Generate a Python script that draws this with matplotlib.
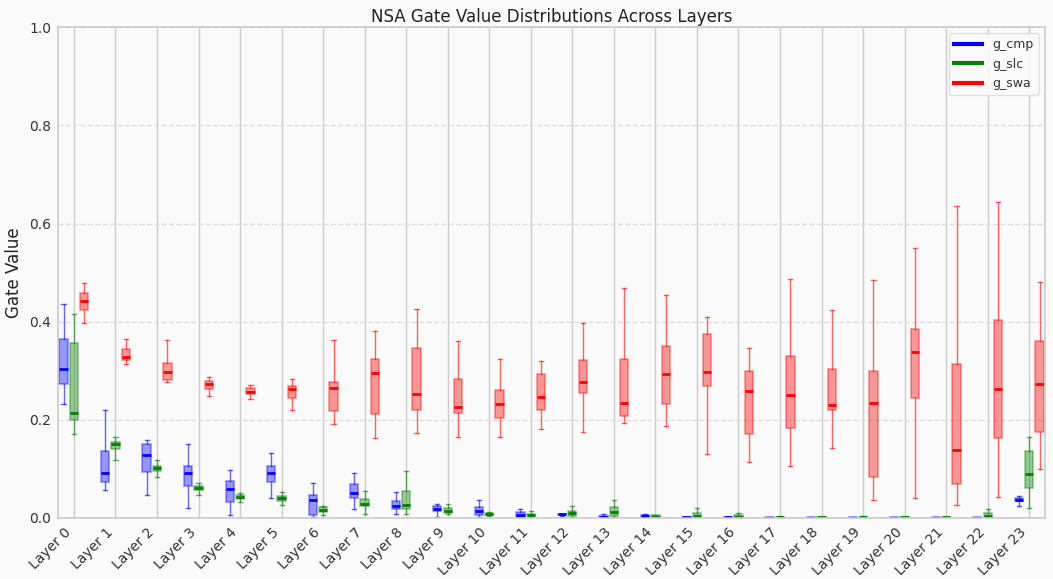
import matplotlib
matplotlib.use("Agg")
import matplotlib.pyplot as plt
from matplotlib.lines import Line2D
import numpy as np

layers = [f"Layer {i}" for i in range(24)]
series_names = ["g_cmp", "g_slc", "g_swa"]
series_colors = ["blue", "green", "red"]

# g_cmp: whisker low, Q1, median, Q3, whisker high
cmp_lo  = [0.232, 0.056, 0.047, 0.020, 0.006, 0.040, 0.002, 0.018, 0.009, 0.003, 0.002, 0.003, 0.0047, 0.001, 0.001, 0.0005, 0.0005, 0.0004, 0.0003, 0.0003, 0.0003, 0.0003, 0.0003, 0.024]
cmp_q1  = [0.274, 0.073, 0.094, 0.065, 0.032, 0.073, 0.006, 0.041, 0.018, 0.014, 0.007, 0.003, 0.0054, 0.001, 0.002, 0.0008, 0.0008, 0.0006, 0.0005, 0.0005, 0.0005, 0.0005, 0.0005, 0.034]
cmp_med = [0.304, 0.091, 0.129, 0.092, 0.060, 0.091, 0.037, 0.051, 0.025, 0.019, 0.0136, 0.006, 0.0075, 0.003, 0.0034, 0.001, 0.001, 0.0008, 0.0007, 0.0007, 0.0007, 0.0007, 0.0007, 0.0373]
cmp_q3  = [0.364, 0.137, 0.151, 0.105, 0.075, 0.106, 0.047, 0.069, 0.0346, 0.024, 0.022, 0.012, 0.009, 0.005, 0.0054, 0.0015, 0.0015, 0.001, 0.001, 0.001, 0.001, 0.001, 0.001, 0.040]
cmp_hi  = [0.437, 0.221, 0.159, 0.1505, 0.097, 0.133, 0.071, 0.0915, 0.053, 0.0285, 0.0366, 0.019, 0.009, 0.008, 0.0075, 0.002, 0.002, 0.0015, 0.0012, 0.0012, 0.0012, 0.0012, 0.0012, 0.0447]

# g_slc
slc_lo  = [0.1715, 0.119, 0.083, 0.047, 0.0325, 0.026, 0.007, 0.0075, 0.009, 0.008, 0.005, 0.003, 0.003, 0.003, 0.001, 0.001, 0.001, 0.0008, 0.0006, 0.0008, 0.0006, 0.0006, 0.001, 0.0197]
slc_q1  = [0.199, 0.141, 0.096, 0.057, 0.039, 0.034, 0.013, 0.024, 0.018, 0.010, 0.006, 0.004, 0.005, 0.005, 0.002, 0.002, 0.002, 0.0012, 0.0008, 0.0012, 0.0008, 0.0008, 0.002, 0.0617]
slc_med = [0.214, 0.1505, 0.101, 0.062, 0.043, 0.040, 0.017, 0.029, 0.026, 0.0136, 0.008, 0.006, 0.010, 0.0115, 0.003, 0.005, 0.003, 0.002, 0.001, 0.002, 0.001, 0.001, 0.004, 0.090]
slc_q3  = [0.357, 0.155, 0.106, 0.066, 0.047, 0.045, 0.022, 0.039, 0.055, 0.020, 0.010, 0.009, 0.0136, 0.0217, 0.0054, 0.010, 0.007, 0.003, 0.0015, 0.003, 0.0015, 0.0015, 0.0095, 0.136]
slc_hi  = [0.4156, 0.166, 0.119, 0.0705, 0.050, 0.052, 0.024, 0.054, 0.0956, 0.0285, 0.013, 0.0136, 0.0237, 0.036, 0.0054, 0.0197, 0.010, 0.004, 0.002, 0.004, 0.002, 0.002, 0.019, 0.164]

# g_swa
swa_lo  = [0.397, 0.314, 0.277, 0.249, 0.243, 0.219, 0.1925, 0.163, 0.173, 0.164, 0.165, 0.181, 0.1756, 0.194, 0.187, 0.131, 0.1146, 0.1064, 0.142, 0.0366, 0.0414, 0.0264, 0.042, 0.0997]
swa_q1  = [0.424, 0.321, 0.282, 0.262, 0.252, 0.244, 0.218, 0.2115, 0.219, 0.214, 0.203, 0.220, 0.254, 0.207, 0.233, 0.268, 0.171, 0.183, 0.221, 0.0834, 0.244, 0.069, 0.162, 0.175]
swa_med = [0.443, 0.327, 0.297, 0.272, 0.257, 0.262, 0.264, 0.295, 0.252, 0.226, 0.233, 0.2475, 0.277, 0.235, 0.2935, 0.297, 0.258, 0.250, 0.2305, 0.234, 0.3376, 0.139, 0.2637, 0.2725]
swa_q3  = [0.459, 0.344, 0.315, 0.279, 0.264, 0.269, 0.277, 0.323, 0.346, 0.283, 0.260, 0.2935, 0.3214, 0.324, 0.350, 0.375, 0.299, 0.330, 0.3044, 0.299, 0.3858, 0.313, 0.4027, 0.360]
swa_hi  = [0.478, 0.365, 0.363, 0.287, 0.270, 0.283, 0.363, 0.382, 0.425, 0.361, 0.324, 0.320, 0.398, 0.468, 0.454, 0.410, 0.347, 0.4875, 0.423, 0.484, 0.5505, 0.636, 0.643, 0.481]

series_stats = [
    (cmp_lo, cmp_q1, cmp_med, cmp_q3, cmp_hi),
    (slc_lo, slc_q1, slc_med, slc_q3, slc_hi),
    (swa_lo, swa_q1, swa_med, swa_q3, swa_hi),
]
offsets = [-0.25, 0.0, 0.25]
box_width = 0.2

fig = plt.figure(figsize=(10.53, 5.79), dpi=100, facecolor="#fafafa")
ax = fig.add_axes([0.055, 0.1054, 0.9374, 0.8476])
ax.set_facecolor("#fafafa")

x = np.arange(len(layers))
for (lo, q1, med, q3, hi), off, col in zip(series_stats, offsets, series_colors):
    stats = []
    for i in range(len(layers)):
        stats.append(dict(whislo=lo[i], q1=q1[i], med=med[i], q3=q3[i], whishi=hi[i], fliers=[]))
    bp = ax.bxp(stats, positions=x + off, widths=box_width, patch_artist=True,
                showfliers=False, manage_ticks=False,
                boxprops=dict(facecolor=col, edgecolor=col, alpha=0.4, linewidth=1.2),
                medianprops=dict(color=col, linewidth=2),
                whiskerprops=dict(color=col, alpha=0.6, linewidth=1),
                capprops=dict(color=col, alpha=0.6, linewidth=1))
    for b in bp["boxes"]:
        b.set_zorder(2)

ax.set_xticks(x)
ax.set_xticklabels(layers, rotation=45, ha="right", rotation_mode="default")
ax.set_xlim(-0.385, 23.38)
ax.set_ylim(0, 1.0)
ax.set_yticks([0.0, 0.2, 0.4, 0.6, 0.8, 1.0])
ax.set_yticklabels(["0.0", "0.2", "0.4", "0.6", "0.8", "1.0"])

ax.tick_params(axis="both", length=0, labelsize=10, colors="#333333", pad=5)
ax.xaxis.grid(True, color="#cccccc", linestyle="-", linewidth=1)
ax.yaxis.grid(True, color="#dddddd", linestyle="--", linewidth=1)
ax.set_axisbelow(True)
for s in ax.spines.values():
    s.set_color("#cccccc")
    s.set_linewidth(1.2)

ax.set_title("NSA Gate Value Distributions Across Layers", fontsize=12, color="#222222", pad=4)
ax.set_ylabel("Gate Value", fontsize=12, color="#222222")

handles = [Line2D([0], [0], color=c, linewidth=3, label=n) for n, c in zip(series_names, series_colors)]
leg = ax.legend(handles=handles, loc="upper right", fontsize=9, framealpha=0.9,
                edgecolor="#dddddd", facecolor="#fafafa", handlelength=2.3)
for t in leg.get_texts():
    t.set_color("#333333")

fig.savefig("out.png", dpi=100, facecolor=fig.get_facecolor())
